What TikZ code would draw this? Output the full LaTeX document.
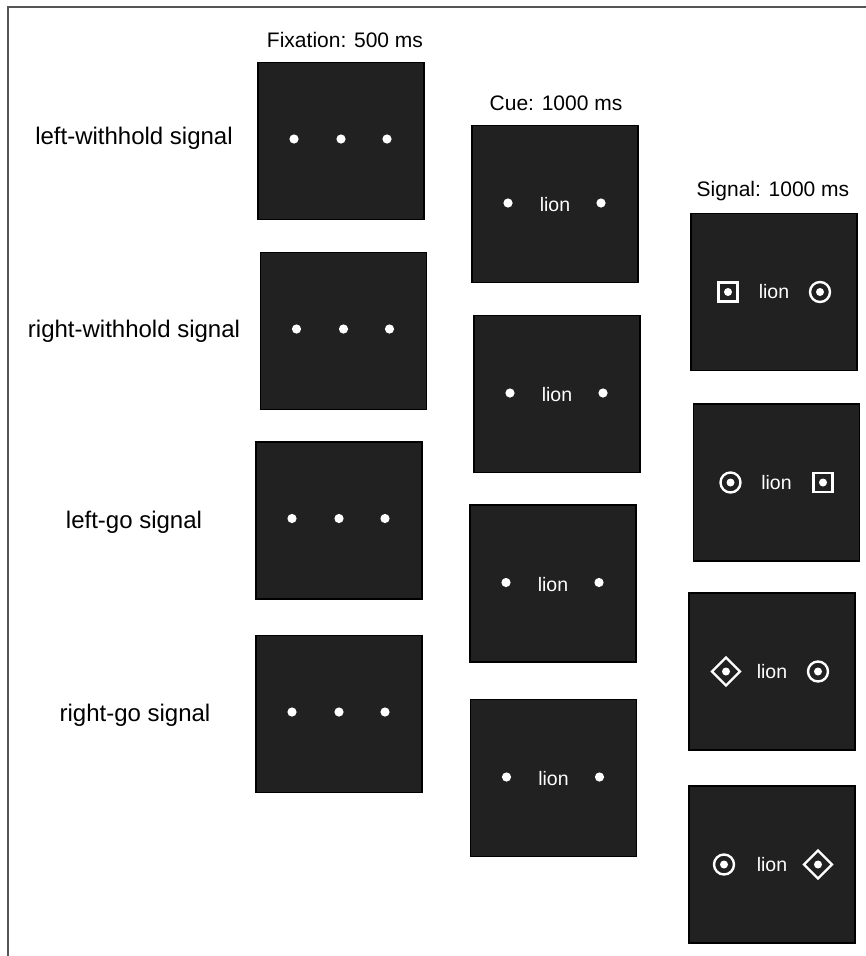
\documentclass[tikz,border=0pt]{standalone}
\usepackage{fontspec}
\setmainfont{Liberation Sans}
\definecolor{panel}{HTML}{212121}
\definecolor{framegray}{HTML}{555555}
\begin{document}
\begin{tikzpicture}[x=1pt,y=-1pt,
  panelbox/.style={draw=black,line width=1.3pt,fill=panel,minimum width=166pt,minimum height=157pt,inner sep=0pt},
  rowlabel/.style={font=\fontsize{24}{28}\selectfont,text=black,inner sep=0pt},
  heading/.style={font=\fontsize{21}{24}\selectfont,text=black,inner sep=0pt},
  lionword/.style={font=\fontsize{19.5}{22}\selectfont,text=white,inner sep=0pt},
  fixdot/.style={fill=white,draw=none},
  sym/.style={draw=white,line width=2.4pt}
]
\useasboundingbox (0,0) rectangle (865,956);
\fill[white] (0,0) rectangle (865,956);
% frame
\coordinate (fa) at (8,956);
\coordinate (fb) at (8,7);
\coordinate (fc) at (866,7);
\draw[framegray,line width=1.3pt] (fa) -- (fb) -- (fc);

% headings
\node[heading] (hF) at (345,40) {Fixation: 500 ms};
\node[heading] (hC) at (556,103) {Cue: 1000 ms};
\node[heading] (hS) at (773,191) {Signal: 1000 ms};

% row labels
\node[rowlabel] (l1) at (134,138) {left-withhold signal};
\node[rowlabel] (l2) at (134,331) {right-withhold signal};
\node[rowlabel] (l3) at (134,522) {left-go signal};
\node[rowlabel] (l4) at (135,715) {right-go signal};

% fixation panels
\node[panelbox] (F1) at (341,141) {};
\node[panelbox] (F2) at (343.5,331) {};
\node[panelbox] (F3) at (339,520.5) {};
\node[panelbox] (F4) at (339,714) {};
\foreach \p in {F1,F2,F3,F4}{
  \begin{scope}[shift={(\p.center)}]
    \fill[fixdot] (-47,-2) circle (4.6);
    \fill[fixdot] (0,-2) circle (4.6);
    \fill[fixdot] (46,-2) circle (4.6);
  \end{scope}
}

% cue panels
\node[panelbox] (C1) at (555,204) {};
\node[panelbox] (C2) at (557,394) {};
\node[panelbox] (C3) at (553,583.5) {};
\node[panelbox] (C4) at (553.5,778) {};
\foreach \p in {C1,C2,C3,C4}{
  \begin{scope}[shift={(\p.center)}]
    \fill[fixdot] (-47,-1) circle (4.6);
    \fill[fixdot] (46,-1) circle (4.6);
    \node[lionword] at (0,1) {lion};
  \end{scope}
}

% signal panels
\node[panelbox] (S1) at (774,292) {};
\node[panelbox] (S2) at (776.5,482.5) {};
\node[panelbox] (S3) at (772,671.5) {};
\node[panelbox] (S4) at (772,864.5) {};

\node[lionword] (w1) at (S1.center) {lion};
\node[lionword] (w2) at (S2.center) {lion};
\node[lionword] (w3) at (S3.center) {lion};
\node[lionword] (w4) at (S4.center) {lion};

% S1: square left, circle right
\begin{scope}[shift={(S1.center)}]
  \draw[sym,line width=2.2pt] (-55.5,-9.5) rectangle (-36.5,9.5);
  \fill[fixdot] (-46,0) circle (4);
  \draw[sym] (46,0) circle (10);
  \fill[fixdot] (46,0) circle (4);
\end{scope}
% S2: circle left, square right
\begin{scope}[shift={(S2.center)}]
  \draw[sym] (-46,0) circle (10);
  \fill[fixdot] (-46,0) circle (4);
  \draw[sym,line width=2.2pt] (37,-9.5) rectangle (56,9.5);
  \fill[fixdot] (46.5,0) circle (4);
\end{scope}
% S3: diamond left, circle right
\begin{scope}[shift={(S3.center)}]
  \draw[sym,line join=miter] (-46,-14) -- (-32,0) -- (-46,14) -- (-60,0) -- cycle;
  \fill[fixdot] (-46,0) circle (4);
  \draw[sym] (46,0) circle (10);
  \fill[fixdot] (46,0) circle (4);
\end{scope}
% S4: circle left, diamond right
\begin{scope}[shift={(S4.center)}]
  \draw[sym] (-48,0) circle (10);
  \fill[fixdot] (-48,0) circle (4);
  \draw[sym,line join=miter] (46,-14) -- (60,0) -- (46,14) -- (32,0) -- cycle;
  \fill[fixdot] (46,0) circle (4);
\end{scope}
\end{tikzpicture}
\end{document}
